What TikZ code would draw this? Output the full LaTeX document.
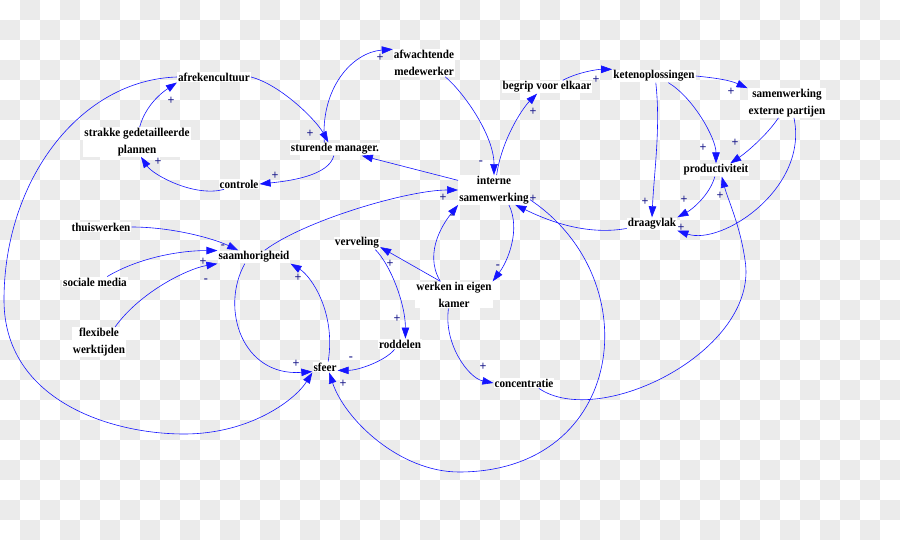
\documentclass[tikz,border=0pt]{standalone}
\usepackage{fontspec}
\setmainfont{Liberation Serif}[FakeStretch=0.93]
\usepackage{tikz}
\usetikzlibrary{arrows.meta}
\definecolor{loopblue}{HTML}{1414FF}
\definecolor{signblue}{HTML}{1C1C8C}
\definecolor{checkgray}{HTML}{EBEBEB}

\begin{document}
\begin{tikzpicture}[x=1pt, y=-1pt,
  var/.style={fill=white, inner sep=1pt, align=center,
    font=\bfseries\fontsize{12}{16.5}\selectfont},
  link/.style={draw=loopblue, line width=0.6pt,
    -{Triangle[length=11pt, width=7.5pt]}},
  pol/.style={text=signblue, inner sep=0pt,
    font=\bfseries\fontsize{13}{13}\selectfont},
]
\useasboundingbox (0,0) rectangle (900,540);
\fill[white] (0,0) rectangle (900,540);
\foreach \j in {0,2,...,26}{
  \foreach \i in {1,3,...,43}{
    \fill[checkgray] (20*\i,20*\j) rectangle (20*\i+20,20*\j+20);
  }
}
\foreach \j in {1,3,...,25}{
  \foreach \i in {0,2,...,44}{
    \fill[checkgray] (20*\i,20*\j) rectangle (20*\i+20,20*\j+20);
  }
}

\node[var] (afr) at (214,77) {afrekencultuur};
\node[var] (plan) at (137,142) {strakke gedetailleerde\\plannen};
\node[var] (stu) at (335,149) {sturende manager.};
\node[var] (ctrl) at (239,184) {controle};
\node[var] (afw) at (424,63) {afwachtende\\medewerker};
\node[var] (begrip) at (547,87) {begrip voor elkaar};
\node[var] (keten) at (654,76) {ketenoplossingen};
\node[var] (extern) at (787,103) {samenwerking\\externe partijen};
\node[var] (prod) at (716,170) {productiviteit};
\node[var] (intern) at (494,190) {interne\\samenwerking};
\node[var] (draag) at (652,224) {draagvlak};
\node[var] (thuis) at (101,227) {thuiswerken};
\node[var] (saam) at (254,257) {saamhorigheid};
\node[var] (media) at (95,282) {sociale media};
\node[var] (flex) at (99,342) {flexibele\\werktijden};
\node[var] (verv) at (357,243) {verveling};
\node[var] (kamer) at (454,295) {werken in eigen\\kamer};
\node[var] (rodd) at (400,344) {roddelen};
\node[var] (sfeer) at (325,367) {sfeer};
\node[var] (conc) at (524,383) {concentratie};

\draw[link] (afr.east) .. controls +(30,8) and +(-12,-22) .. (stu.135);
\draw[link] (stu.-100) .. controls +(-5,20) and +(30,-3) .. (ctrl.east);
\draw[link] (ctrl.-160) .. controls +(-30,8) and +(12,18) .. (plan.-75);
\draw[link] (plan.80) .. controls +(6,-22) and +(-15,10) .. (afr.south west);
\draw[link] (stu.148) .. controls +(-4,-55) and +(-40,3) .. (afw.north west);
\draw[link] (afw.-33) .. controls +(18,15) and +(0,-40) .. (intern.north);
\draw[link] (intern.80) .. controls +(5,-35) and +(-15,15) .. (begrip.-146);
\draw[link] (begrip.23) .. controls +(15,-8) and +(-15,0) .. (keten.north west);
\draw[link] (keten.east) .. controls +(20,2) and +(-18,-8) .. (extern.north west);
\draw[link] (keten.-25) .. controls +(25,15) and +(0,-25) .. (prod.north);
\draw[link] (keten.-75) .. controls +(5,45) and +(2,-45) .. (draag.north);
\draw[link] (extern.-120) .. controls +(-12,18) and +(15,-10) .. (prod.25);
\draw[link] (extern.-65) .. controls +(15,70) and +(45,15) .. (draag.south east);
\draw[link] (prod.-100) .. controls +(-5,18) and +(15,-8) .. (draag.north east);
\draw[link] (draag.-170) .. controls +(-45,8) and +(25,12) .. (intern.-35);
\draw[link] (intern.-15) .. controls (650,280) and (625,472) .. (459,472)
  .. controls (400,472) and (345,420) .. (sfeer.-53);
\draw[link] (afr.west) .. controls (80,80) and (4,180) .. (4,300)
  .. controls (4,400) and (110,434) .. (184,434)
  .. controls (250,434) and (295,400) .. (sfeer.south west);
\draw[link] (saam.-144) .. controls +(-25,45) and +(-70,5) .. (sfeer.-160);
\draw[link] (sfeer.60) .. controls +(8,-50) and +(20,12) .. (saam.south east);
\draw[link] (rodd.-135) .. controls +(-10,12) and +(20,0) .. (sfeer.-15);
\draw[link] (intern.165) -- (stu.-14);
\draw[link] (saam.32) .. controls +(40,-30) and +(-50,0) .. (intern.west);
\draw[link] (kamer.135) .. controls +(-18,-30) and +(-12,15) .. (intern.south west);
\draw[link] (intern.-45) .. controls +(12,25) and +(15,-20) .. (kamer.north east);
\draw[link] (kamer.135) -- (verv.-10);
\draw[link] (verv.-20) .. controls +(15,15) and +(0,-35) .. (rodd.45);
\draw[link] (kamer.-112) .. controls +(-5,35) and +(-25,-5) .. (conc.west);
\draw[link] (conc.-20) .. controls (600,430) and (760,350) .. (745,260)
  .. controls (740,225) and (728,200) .. (prod.-49);
\draw[link] (thuis.east) .. controls +(40,0) and +(-25,-12) .. (saam.157);
\draw[link] (media.24) .. controls +(30,-18) and +(-40,0) .. (saam.170);
\draw[link] (flex.43) .. controls +(25,-35) and +(-30,5) .. (saam.south west);

\foreach \x/\y [count=\n] in {171/101, 158/162, 275/176, 310/134, 380/58,
    533/112, 596/80, 731/92, 703/148, 735/143, 645/202, 684/200, 681/228,
    720/196, 533/199, 443/198, 390/264, 397/319, 483/367, 203/262, 298/278,
    296/364, 343/384}
  \node[pol] (plus\n) at (\x,\y) {+};
\foreach \x/\y [count=\n] in {481/163, 452/217, 498/267, 223/247, 206/281,
    351/359}
  \node[pol] (minus\n) at (\x,\y) {-};
\end{tikzpicture}
\end{document}
